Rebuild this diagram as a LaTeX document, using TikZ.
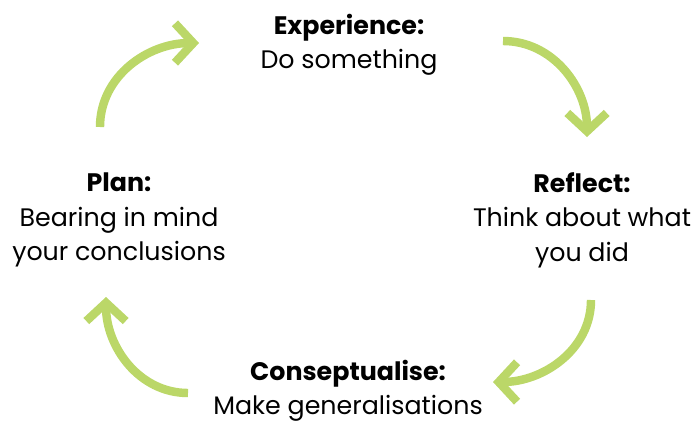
\documentclass[tikz,border=0pt]{standalone}
\usepackage{fontspec}
\setmainfont{Poppins}
\usetikzlibrary{arrows.meta}
\definecolor{cyclegreen}{RGB}{187,215,104}
\begin{document}
\begin{tikzpicture}[x=0.025cm, y=-0.025cm]
      \useasboundingbox (0,0) rectangle (694,423);

      % Stage texts round the cycle
      \foreach \nom/\x/\y/\ttl/\txt in {exp/349/45/Experience:/{Do something},
                                        refl/582/220/Reflect:/{Think about what\\you did},
                                        plan/119/220/Plan:/{Bearing in mind\\your conclusions},
                                        conc/348/391/Conseptualise:/{Make generalisations}} {
          \node[align=center, font=\fontsize{18}{24.5}\selectfont] (\nom) at (\x, \y) {\textbf{\ttl}\\\txt};
      }

      % Free ends of the curved arrows
      \coordinate (s1) at (100,127);  \coordinate (e1) at (199,43);
      \coordinate (s2) at (503,41);   \coordinate (e2) at (587,137);
      \coordinate (s3) at (591,300);  \coordinate (e3) at (493,382);
      \coordinate (s4) at (188,393);  \coordinate (e4) at (106,297);

      % Draw the curved arrows
      \foreach \i/\o/\n in {1/90/180, 2/0/90, 3/-90/0, 4/180/-90} {
          \draw[cyclegreen, line width=6pt, -{Straight Barb[length=13pt, width=28pt]}]
              (s\i) to[out=\o, in=\n] (e\i);
      }

\end{tikzpicture}
\end{document}
